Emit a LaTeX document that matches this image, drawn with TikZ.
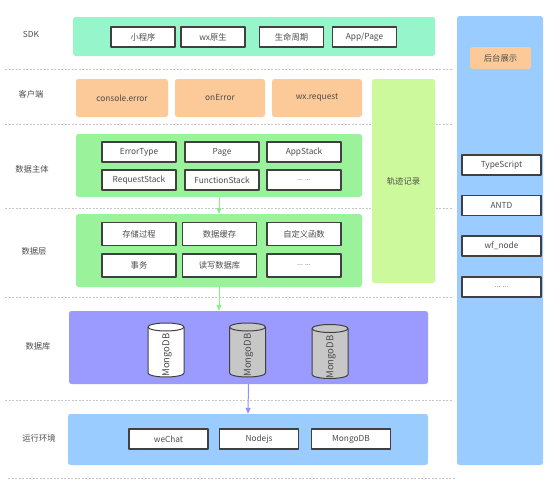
\documentclass[tikz,border=0pt]{standalone}
\usepackage{fontspec}
\setmainfont{Noto Sans CJK SC}
\usepackage{tikz}
\usetikzlibrary{arrows.meta}

\definecolor{sdkMint}{HTML}{96F5CB}
\definecolor{clientOrange}{HTML}{FCC998}
\definecolor{bodyGreen}{HTML}{9AF29A}
\definecolor{trackLime}{HTML}{CCF99B}
\definecolor{dbPurple}{HTML}{9A9AFF}
\definecolor{envBlue}{HTML}{9ACCFF}
\definecolor{flowGreen}{HTML}{88EE88}
\definecolor{flowPurple}{HTML}{9090FF}

\begin{document}
\begin{tikzpicture}[
						x=1pt,
						y=-1pt,
						line join=round,
						every node/.style={font=\fontsize{8.3}{9}\selectfont, text=black!70},
						band/.style={rounded corners=2.5pt, inner sep=0pt},
						cell/.style={draw=black!75, line width=1.1pt, fill=white, minimum width=74pt, minimum height=20pt, inner sep=0pt},
						tag/.style={band, fill=clientOrange, minimum width=90pt, minimum height=38pt},
						sep/.style={gray!45, line width=0.6pt, dash pattern=on 2pt off 1.5pt},
						flow/.style={-{Triangle[length=6pt,width=5pt]}, line width=1pt},
						mongotext/.style={rotate=90, inner sep=0pt, font=\fontsize{9.5}{10}\selectfont}
						]
						
						\useasboundingbox (0,0) rectangle (550,485);
						
						% separators
						\foreach \y in {69,124,208,297,400}
						\draw[sep] (5,\y) -- (452,\y);
						\draw[sep] (8,478) -- (455,478);
						
						% layer names
						\node (labSdk) at (31,34) {SDK};
						\node (labClient) at (31,94) {客户端};
						\node (labBody) at (32,169) {数据主体};
						\node (labLayer) at (34,251) {数据层};
						\node (labDb) at (38,346) {数据库};
						\node (labEnv) at (39,438) {运行环境};
						
						% SDK
						\node[band, fill=sdkMint, minimum width=362pt, minimum height=39pt] (sdk) at (254,36.5) {};
						\node[cell, minimum width=64pt] (sdkA) at (143,37) {小程序};
						\node[cell, minimum width=64pt] (sdkB) at (213,37) {wx原生};
						\node[cell, minimum width=64pt] (sdkC) at (291.5,37) {生命周期};
						\node[cell, minimum width=64pt] (sdkD) at (364.5,37) {App/Page};
						
						% client
						\node[tag, minimum width=92pt] (clientA) at (122,98) {console.error};
						\node[tag] (clientB) at (220,98) {onError};
						\node[tag] (clientC) at (317,98) {wx.request};
						
						% track record
						\node[band, fill=trackLime, minimum width=63pt, minimum height=204pt] (track) at (403.5,181) {轨迹记录};
						
						% data body
						\node[band, fill=bodyGreen, minimum width=286pt, minimum height=63pt] (body) at (219,165.5) {};
						\node[cell] (bodyA) at (139,152) {ErrorType};
						\node[cell] (bodyB) at (222,152) {Page};
						\node[cell] (bodyC) at (304,152) {AppStack};
						\node[cell] (bodyD) at (139,180) {RequestStack};
						\node[cell] (bodyE) at (222,180) {FunctionStack};
						\node[cell] (bodyF) at (304,180) {\scriptsize ... ...};
						
						% data layer
						\node[band, fill=bodyGreen, minimum width=286pt, minimum height=73pt] (layer) at (219,250.5) {};
						\node[cell, minimum height=23pt] (layerA) at (139,234) {存储过程};
						\node[cell, minimum height=23pt] (layerB) at (219.5,234) {数据缓存};
						\node[cell, minimum height=23pt] (layerC) at (304,234) {自定义函数};
						\node[cell, minimum height=23pt] (layerD) at (139,265.5) {事务};
						\node[cell, minimum height=23pt] (layerE) at (219.5,265.5) {读写数据库};
						\node[cell, minimum height=23pt] (layerF) at (304,265.5) {\scriptsize ... ...};
						
						% database
						\node[band, fill=dbPurple, minimum width=359pt, minimum height=73pt] (dbase) at (248.5,347.5) {};
						\def\rx{18}
						\def\ry{4}
						\foreach \cx/\cy/\shade in {166/0/white, 247.5/0/black!22, 330/1.5/black!22}
						{
							\fill[\shade] (\cx-\rx,327+\cy) -- (\cx-\rx,373+\cy) arc[start angle=180,end angle=0,x radius=\rx,y radius=\ry] -- (\cx+\rx,327+\cy) -- cycle;
							\draw[black!75, line width=1pt] (\cx-\rx,327+\cy) -- (\cx-\rx,373+\cy) arc[start angle=180,end angle=0,x radius=\rx,y radius=\ry] -- (\cx+\rx,327+\cy);
							\filldraw[fill=\shade, draw=black!75, line width=1pt] (\cx,327+\cy) ellipse[x radius=\rx,y radius=\ry];
						}
						\node[mongotext] (dbAtext) at (167,355) {MongoDB};
						\node[mongotext] (dbBtext) at (248.5,355) {MongoDB};
						\node[mongotext] (dbCtext) at (331,357) {MongoDB};
						
						% runtime
						\node[band, fill=envBlue, minimum width=360pt, minimum height=51pt] (env) at (248,439.5) {};
						\node[cell, minimum width=79pt] (envA) at (168.5,439) {weChat};
						\node[cell, minimum width=79pt] (envB) at (259,439) {Nodejs};
						\node[cell, minimum width=79pt] (envC) at (351,439) {MongoDB};
						
						% admin panel
						\node[band, fill=envBlue, minimum width=86pt, minimum height=449pt] (admin) at (500,240.5) {};
						\node[band, fill=clientOrange, minimum width=61pt, minimum height=22pt] (adminTag) at (500.5,58) {后台展示};
						\node[cell, minimum width=79pt] (adminA) at (501.5,165) {TypeScript};
						\node[cell, minimum width=79pt] (adminB) at (501.5,205.5) {ANTD};
						\node[cell, minimum width=79pt] (adminC) at (501.5,246) {wf\_node};
						\node[cell, minimum width=79pt] (adminD) at (501.5,287) {\scriptsize ... ...};
						
						% flow
						\draw[flow, flowGreen] (body.south) -- (layer.north);
						\draw[flow, flowGreen] (layer.south) -- (layer.south |- dbase.north);
						\draw[flow, flowPurple] (dbase.south) -- (env.north);
						
					\end{tikzpicture}
\end{document}
